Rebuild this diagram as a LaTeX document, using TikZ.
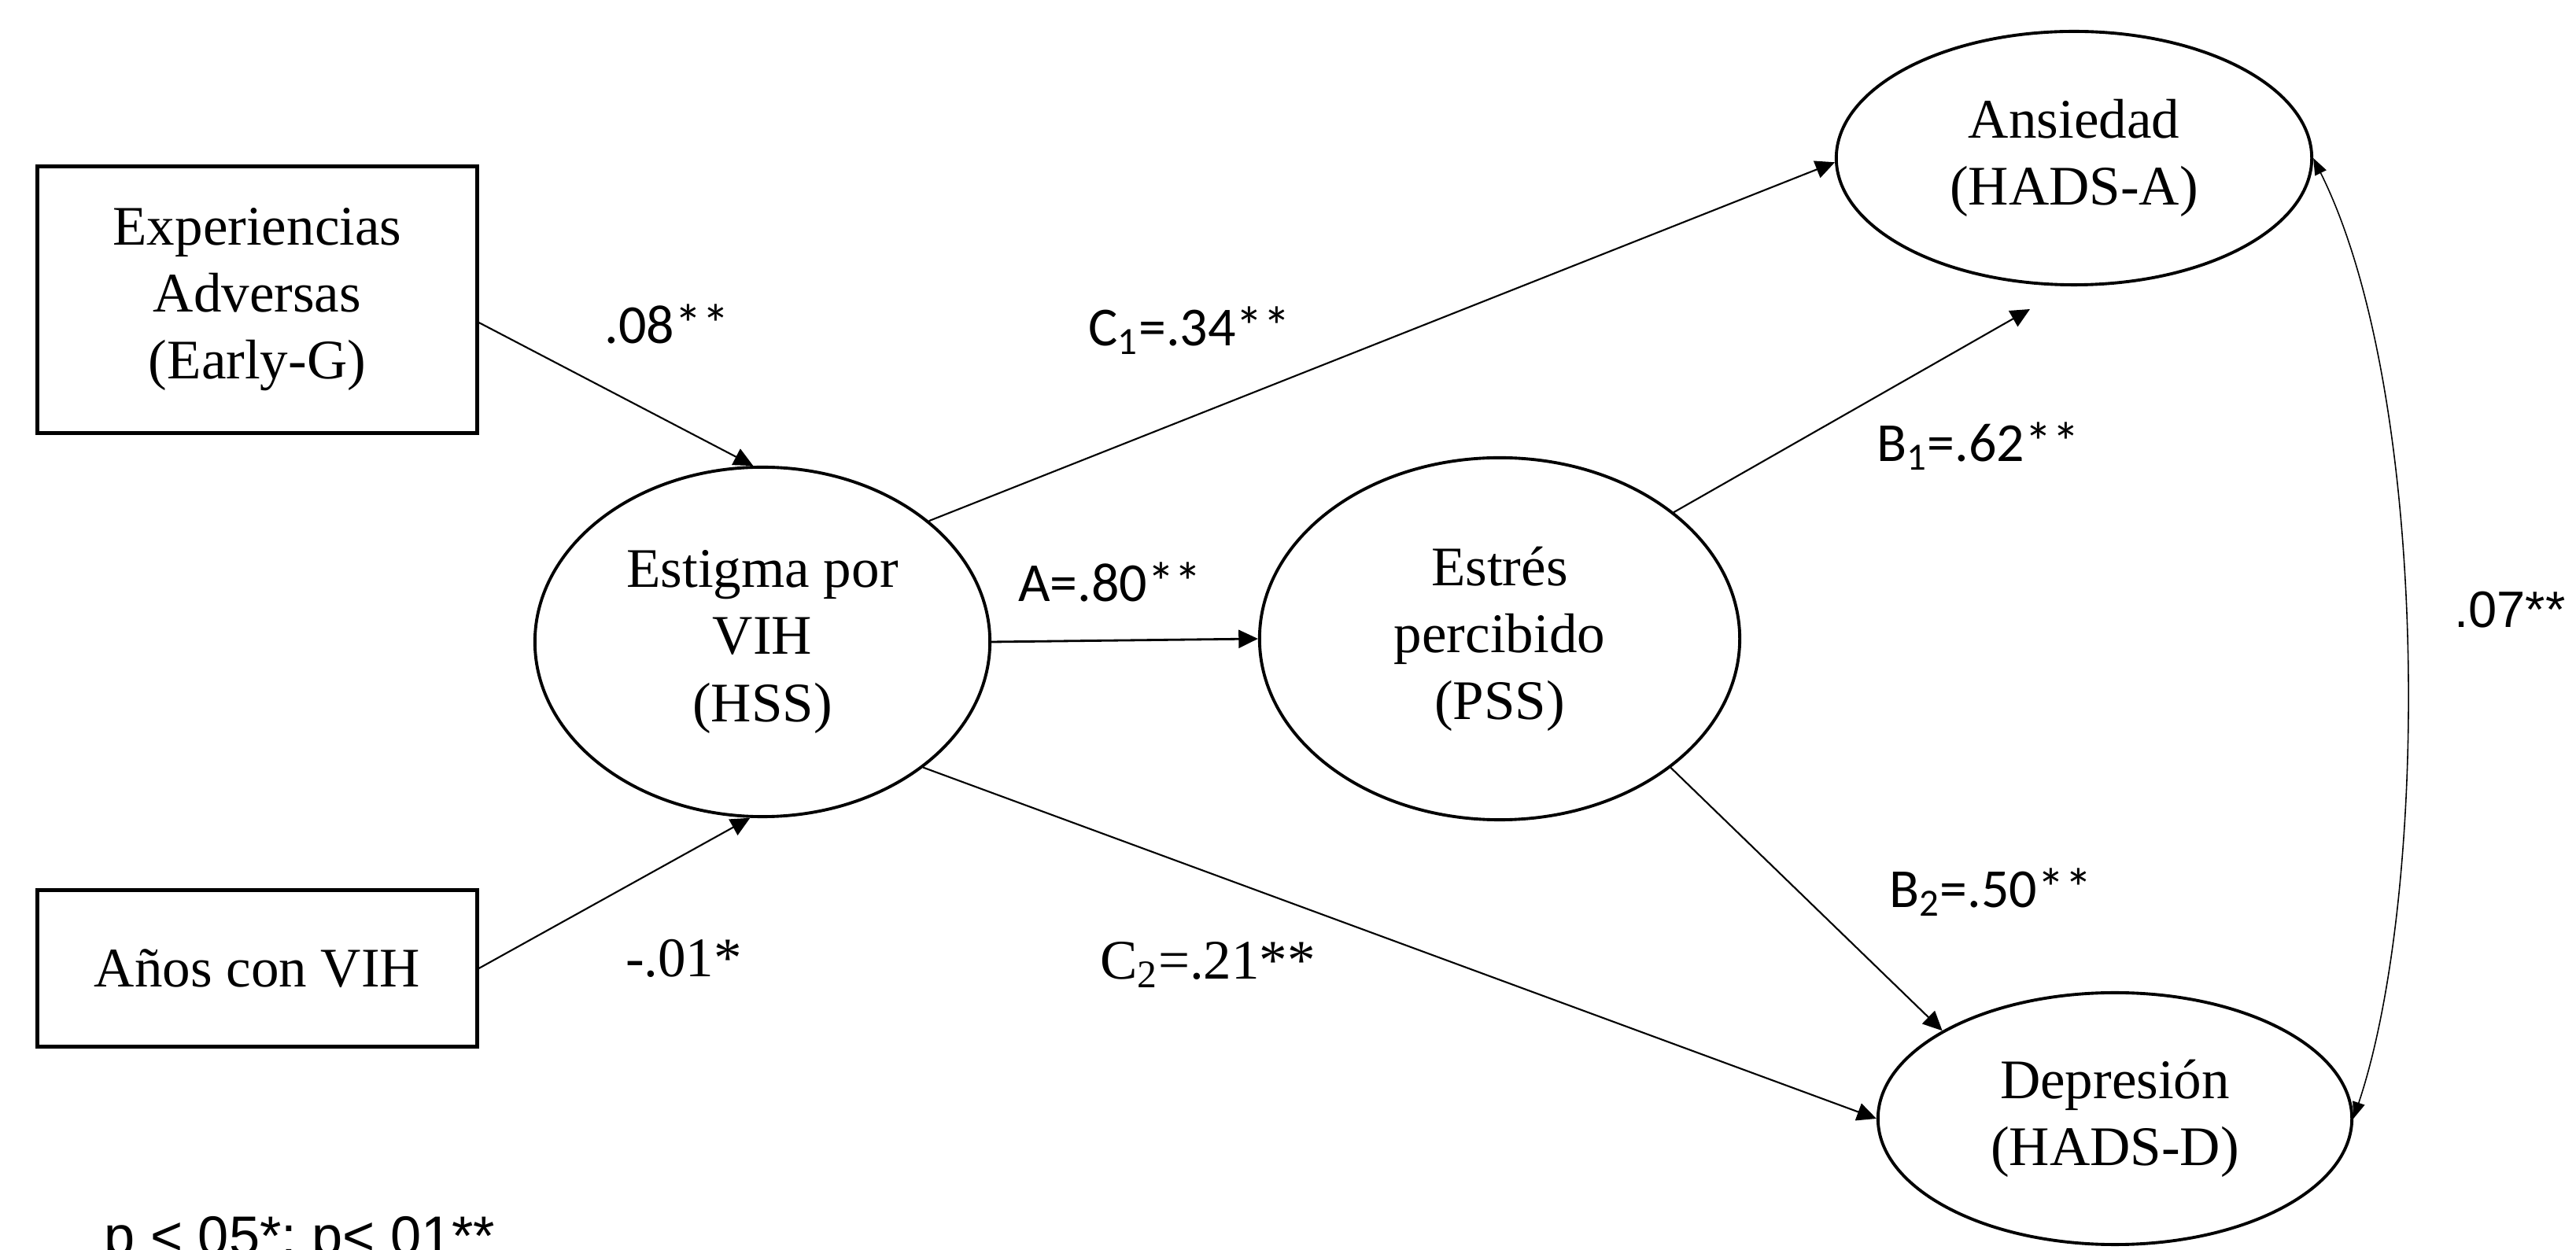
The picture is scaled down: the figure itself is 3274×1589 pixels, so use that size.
\documentclass[tikz,border=0pt]{standalone}
\usepackage{fontspec}
\setmainfont{Liberation Serif}
\newfontfamily\calibf{Carlito}
\newfontfamily\arialf{Liberation Sans}
\usetikzlibrary{arrows.meta,calc,shapes.geometric}
\newcommand\ndfont{\fontsize{20.2pt}{24.2pt}\selectfont}
\begin{document}
\begin{tikzpicture}[x=0.01cm,y=-0.01cm,
  boxn/.style={draw,line width=1.4pt,minimum width=5.58cm,align=center,inner sep=0pt,font=\ndfont},
  ell/.style={draw,ellipse,line width=1.1pt,align=center,inner sep=0pt,font=\ndfont},
  arr/.style={line width=0.6pt,-{Triangle[length=7pt,width=6.5pt]}},
  lbc/.style={anchor=base,font=\calibf\fontsize{19.9pt}{24pt}\selectfont},
  lbt/.style={anchor=base,font=\fontsize{20.2pt}{24pt}\selectfont},
  lba/.style={anchor=base,font=\arialf\fontsize{18.5pt}{22pt}\selectfont},
]
\useasboundingbox (0,0) rectangle (3274,1589);
\clip (0,0) rectangle (3274,1589);
\node[boxn,minimum height=3.38cm] (b1) at (327,381) {Experiencias\\Adversas\\(Early-G)};
\node[boxn,minimum height=1.98cm] (b2) at (327,1231) {Años con VIH};
\node[ell,minimum width=5.78cm,minimum height=4.44cm] (est) at (969,816) {Estigma por\\VIH\\(HSS)};
\node[ell,minimum width=6.10cm,minimum height=4.60cm] (str) at (1906,812) {Estrés\\percibido\\(PSS)};
\node[ell,minimum width=6.04cm,minimum height=3.22cm] (ans) at (2636,201) {Ansiedad\\(HADS-A)};
\node[ell,minimum width=6.02cm,minimum height=3.20cm] (dep) at (2688,1422) {Depresión\\(HADS-D)};
\coordinate (b1tip) at (2580,393);

\draw[arr] ($(b1.east)+(0,29)$) -- (est.93.5);
\draw[arr] (b2.east) -- (est.266.5);
\draw[arr] (est.36.6) -- (ans.181);
\draw[arr,line width=0.8pt] (est.east) -- (str.west);
\draw[arr] (est.-38.3) -- (dep.west);
\draw[arr] (str.36.4) -- (b1tip);
\draw[arr] (str.-37.2) -- (dep.153);
\draw[line width=0.45pt,{Triangle[length=6pt,width=4.5pt]}-{Triangle[length=6pt,width=4.5pt]}] (ans.east) .. controls (3089,500) and (3089,1130) .. (dep.east);

\node[lbc] (l08) at (848,437) {.08**};
\node[lbt] (l01) at (869,1242) {-.01*};
\node[lbc] (lc1) at (1512,440) {C\textsubscript{1}=.34**};
\node[lbc] (la) at (1411,765) {A=.80**};
\node[lbt] (lc2) at (1535,1245) {C\textsubscript{2}=.21**};
\node[lbc] (lb1) at (2514,587) {B\textsubscript{1}=.62**};
\node[lbc] (lb2) at (2530,1154) {B\textsubscript{2}=.50**};
\node[lba] (l07) at (3190,798) {.07**};
\node[anchor=base west,inner sep=0pt,font=\arialf\fontsize{20pt}{24pt}\selectfont] (note) at (132,1596) {p < 05*; p< 01**};
\end{tikzpicture}
\end{document}
